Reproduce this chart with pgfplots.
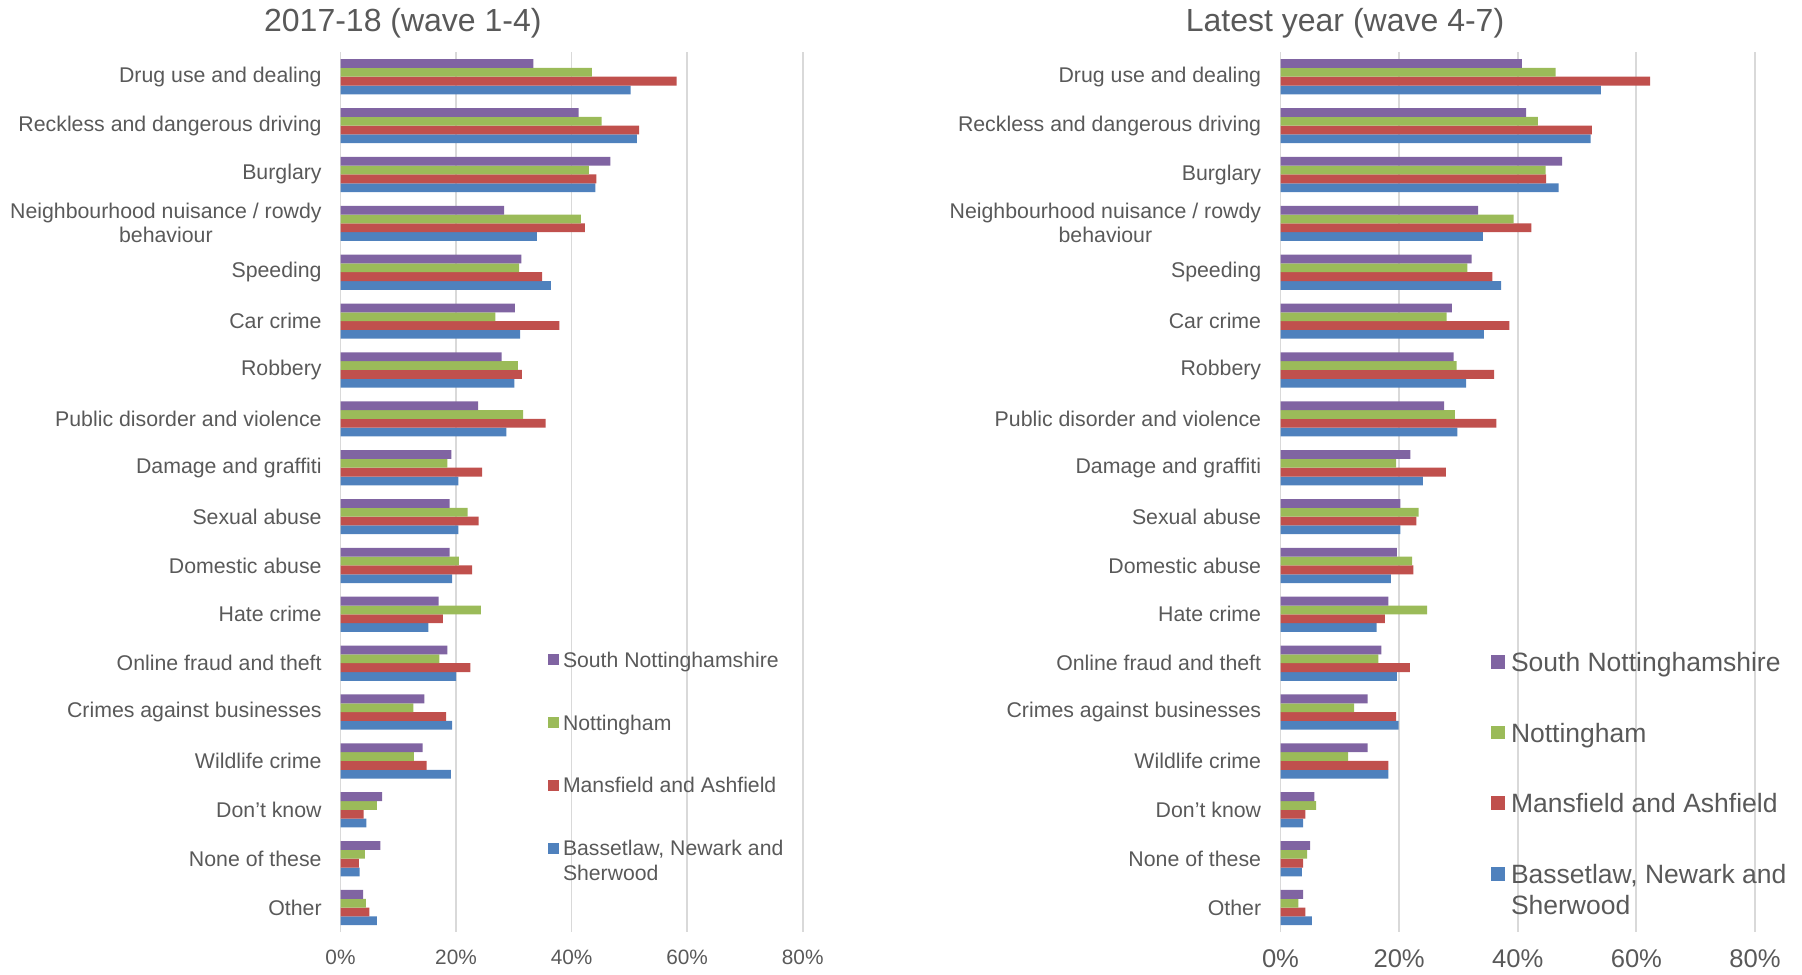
\documentclass[border=0pt]{standalone}
\usepackage{pgfplots}
\usepackage{pgfplotstable}
\pgfplotsset{compat=1.18}
\usepackage{fontspec}
\setmainfont{Liberation Sans}

\definecolor{snott}{HTML}{8064A2}
\definecolor{nott}{HTML}{9BBB59}
\definecolor{mans}{HTML}{C0504D}
\definecolor{bass}{HTML}{4F81BD}
\definecolor{txt}{HTML}{595959}
\definecolor{gridc}{HTML}{D9D9D9}

% share of respondents (%) naming each issue, by area
\pgfplotstableread{
idx sn   nt   ma   bn
0   33.4 43.5 58.2 50.2
1   41.2 45.2 51.7 51.3
2   46.7 43.0 44.3 44.1
3   28.3 41.6 42.3 34.0
4   31.3 30.9 34.9 36.4
5   30.2 26.8 37.9 31.1
6   27.9 30.7 31.4 30.1
7   23.8 31.6 35.5 28.7
8   19.2 18.5 24.5 20.4
9   18.9 22.0 23.9 20.4
10  18.9 20.5 22.8 19.3
11  17.0 24.3 17.7 15.2
12  18.5 17.1 22.5 20.0
13  14.5 12.6 18.3 19.3
14  14.2 12.7 14.9 19.1
15  7.2  6.3  4.0  4.5
16  6.9  4.2  3.2  3.3
17  3.9  4.4  5.0  6.3
}\earlier

\pgfplotstableread{
idx sn   nt   ma   bn
0   40.7 46.4 62.3 54.0
1   41.4 43.4 52.5 52.3
2   47.5 44.7 44.8 46.9
3   33.3 39.3 42.3 34.1
4   32.2 31.5 35.7 37.2
5   28.9 28.0 38.6 34.3
6   29.2 29.7 36.0 31.3
7   27.6 29.4 36.4 29.8
8   21.9 19.5 27.9 24.0
9   20.2 23.3 22.9 20.2
10  19.6 22.2 22.4 18.6
11  18.2 24.7 17.6 16.2
12  17.0 16.5 21.8 19.6
13  14.7 12.4 19.5 19.9
14  14.7 11.4 18.2 18.2
15  5.7  6.0  4.2  3.8
16  5.0  4.5  3.8  3.6
17  3.8  3.0  4.2  5.3
}\latest

\pgfplotsset{
  crimebars/.style={
    scale only axis,
    anchor=north west,
    height=439.85pt,
    xbar=0pt, bar width=4.4pt,
    xmin=0, xmax=80,
    ymin=-0.5, ymax=17.5,
    y dir=reverse,
    axis line style={draw=none},
    major tick length=0pt,
    xmajorgrids, major grid style={gridc, line width=0.9pt},
    xtick={0,20,40,60,80},
    xticklabels={0\%,20\%,40\%,60\%,80\%},
    ytick={0,...,17},
    yticklabels={Drug use and dealing, Reckless and dangerous driving, Burglary,
      {Neighbourhood nuisance / rowdy\\behaviour}, Speeding, Car crime, Robbery,
      Public disorder and violence, Damage and graffiti, Sexual abuse,
      Domestic abuse, Hate crime, Online fraud and theft,
      Crimes against businesses, Wildlife crime, Don’t know, None of these, Other},
    yticklabel style={text=txt, align=center, anchor=east, inner sep=0pt,
      font=\fontsize{10.65}{12}\selectfont},
    xticklabel style={text=txt, anchor=center, inner sep=0pt},
    title style={text=txt, anchor=base, font=\fontsize{16}{19}\selectfont},
    reverse legend,
    legend cell align=left,
    legend style={draw=none, fill=none, inner sep=0pt, outer sep=0pt,
      text=txt, cells={anchor=base west}, nodes={inner sep=0pt}},
  },
}

\begin{document}
\begin{tikzpicture}
\path[use as bounding box] (0,0) rectangle (901pt,-487pt);

\begin{axis}[crimebars,
  at={(170.25pt,-26.15pt)}, width=231.1pt,
  yticklabel style={xshift=-9.25pt},
  xticklabel style={yshift=-12.5pt, font=\fontsize{10.4}{12}\selectfont},
  title={2017-18 (wave 1-4)},
  title style={at={(axis description cs:0.135,1)}, yshift=4.3pt},
  legend style={at={(axis description cs:0.449,0.321)}, anchor=north west,
    font=\fontsize{10.6}{12.5}\selectfont, row sep=21.2pt, column sep=2pt},
  legend image code/.code={\fill[#1] (0pt,1.05pt) rectangle (5.5pt,6.55pt);},
]
\addplot[fill=bass, draw=none] table[x=bn, y=idx] {\earlier};
\addplot[fill=mans, draw=none] table[x=ma, y=idx] {\earlier};
\addplot[fill=nott, draw=none] table[x=nt, y=idx] {\earlier};
\addplot[fill=snott, draw=none] table[x=sn, y=idx] {\earlier};
\addlegendentry{\parbox[t]{6cm}{\strut Bassetlaw, Newark and\\Sherwood\strut}}
\addlegendentry{\strut Mansfield and Ashfield}
\addlegendentry{\strut Nottingham}
\addlegendentry{\strut South Nottinghamshire}
\end{axis}

\begin{axis}[crimebars,
  at={(640.25pt,-26.15pt)}, width=237.25pt,
  yticklabel style={xshift=-9.5pt},
  xticklabel style={yshift=-13.5pt, font=\fontsize{12.8}{15}\selectfont},
  title={Latest year (wave 4-7)},
  title style={at={(axis description cs:0.136,1)}, yshift=4.3pt},
  legend style={at={(axis description cs:0.4436,0.3208)}, anchor=north west,
    font=\fontsize{13.25}{15.5}\selectfont, row sep=22.95pt, column sep=3.25pt},
  legend image code/.code={\fill[#1] (0pt,1.375pt) rectangle (6.75pt,8.125pt);},
]
\addplot[fill=bass, draw=none] table[x=bn, y=idx] {\latest};
\addplot[fill=mans, draw=none] table[x=ma, y=idx] {\latest};
\addplot[fill=nott, draw=none] table[x=nt, y=idx] {\latest};
\addplot[fill=snott, draw=none] table[x=sn, y=idx] {\latest};
\addlegendentry{\parbox[t]{6cm}{\strut Bassetlaw, Newark and\\Sherwood\strut}}
\addlegendentry{\strut Mansfield and Ashfield}
\addlegendentry{\strut Nottingham}
\addlegendentry{\strut South Nottinghamshire}
\end{axis}
\end{tikzpicture}
\end{document}
